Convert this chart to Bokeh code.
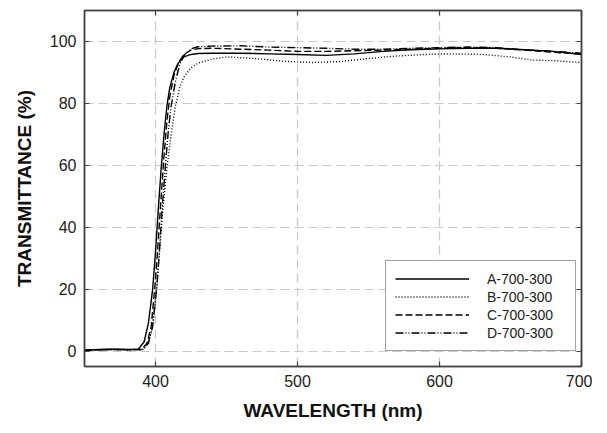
from bokeh.plotting import figure
from bokeh.models import LinearAxis, FixedTicker, Legend, LegendItem, CustomJSTickFormatter
from bokeh.embed import file_html
from bokeh.resources import INLINE

# ---- data ----
wl_A = [350, 360, 370, 380, 388, 392, 395, 398, 400, 402, 404, 406, 408, 410, 413, 416, 420, 425, 430, 440,
        460, 480, 500, 520, 540, 560, 580, 600, 620, 640, 660, 680, 700]
t_A = [0.3, 0.5, 0.6, 0.5, 0.6, 3, 9, 20, 32, 46, 59, 70, 79, 85, 90, 93, 95, 95.8, 96.1, 96.2,
       96.2, 96.0, 95.8, 95.5, 96.0, 96.8, 97.3, 97.6, 97.8, 97.8, 97.3, 96.8, 95.8]

wl_B = [350, 360, 370, 380, 391, 395, 398, 401, 403, 405, 408, 411, 414, 417, 420, 425, 430, 440, 450,
        470, 490, 510, 530, 550, 570, 590, 610, 630, 650, 665, 680, 700]
t_B = [0.2, 0.4, 0.5, 0.4, 0.5, 2.5, 8, 21, 33, 45, 59, 70, 79, 85, 88.5, 91.5, 93.0, 94.3, 95.0,
       94.5, 93.6, 93.2, 93.5, 94.5, 95.3, 95.8, 96.0, 95.8, 95.0, 94.0, 93.8, 93.2]

wl_C = [350, 360, 370, 380, 390, 394, 397, 400, 402, 404, 406, 408, 410, 413, 416, 420, 425, 430, 440,
        460, 480, 500, 520, 540, 560, 580, 600, 620, 640, 660, 680, 700]
t_C = [0.2, 0.4, 0.5, 0.4, 0.5, 2.5, 8, 23, 36, 50, 63, 74, 82, 89, 93, 95.8, 97.2, 97.7, 97.8,
       97.5, 97.2, 96.8, 96.8, 97.0, 97.2, 97.5, 97.8, 98.0, 97.8, 97.2, 96.5, 96.0]

wl_D = [350, 360, 370, 380, 391, 395, 398, 401, 403, 405, 407, 409, 411, 414, 417, 420, 425, 430, 440,
        460, 480, 500, 520, 540, 560, 580, 600, 620, 640, 660, 680, 700]
t_D = [0.3, 0.4, 0.5, 0.5, 0.5, 2.5, 8, 21, 34, 48, 60, 71, 79, 87, 92.5, 95.5, 97.6, 98.3, 98.5,
       98.6, 98.2, 98.0, 97.8, 97.5, 97.5, 97.8, 98.0, 98.2, 98.0, 97.3, 96.8, 96.2]

labels = ["A-700-300", "B-700-300", "C-700-300", "D-700-300"]
x_ticks = [400, 500, 600, 700]
y_ticks = [0, 20, 40, 60, 80, 100]

FONT = "Liberation Sans"
AX = "#444444"

p = figure(width=592, height=425, x_range=(350, 700), y_range=(-5, 110),
           output_backend="svg", toolbar_location=None,
           min_border_left=84, min_border_right=11, min_border_top=10, min_border_bottom=59,
           x_axis_label="WAVELENGTH (nm)", y_axis_label="TRANSMITTANCE (%)")
p.background_fill_color = "white"
p.border_fill_color = "white"
p.outline_line_color = AX
p.outline_line_width = 1.5

for ax, ticks in ((p.xaxis[0], x_ticks), (p.yaxis[0], y_ticks)):
    ax.ticker = FixedTicker(ticks=ticks)
    ax.major_tick_in = 5
    ax.major_tick_out = 0
    ax.minor_tick_line_color = None
    ax.axis_line_color = AX
    ax.axis_line_width = 1.5
    ax.major_tick_line_color = AX
    ax.major_tick_line_width = 1.2
    ax.major_label_text_font = FONT
    ax.major_label_text_font_size = "16px"
    ax.major_label_text_color = "#222222"
    ax.major_label_standoff = 8
    ax.axis_label_text_font = FONT
    ax.axis_label_text_font_size = "19px"
    ax.axis_label_text_font_style = "bold"
    ax.axis_label_text_color = "#111111"
p.xaxis[0].axis_label_standoff = 10
p.yaxis[0].axis_label_standoff = 12

for loc, ticks in (("above", x_ticks), ("right", y_ticks)):
    a = LinearAxis(ticker=FixedTicker(ticks=ticks),
                   formatter=CustomJSTickFormatter(code="return ''"))
    a.major_tick_in = 5
    a.major_tick_out = 0
    a.minor_tick_line_color = None
    a.axis_line_color = AX
    a.axis_line_width = 1.5
    a.major_tick_line_color = AX
    a.major_tick_line_width = 1.2
    a.major_label_standoff = 0
    p.add_layout(a, loc)

for g, ticks in ((p.xgrid[0], x_ticks), (p.ygrid[0], y_ticks)):
    g.ticker = FixedTicker(ticks=ticks)
    g.grid_line_color = "#c8c8c8"
    g.grid_line_dash = "9 5"
    g.grid_line_width = 1.2

rA = p.line(wl_A, t_A, line_color="black", line_width=1.4)
rB = p.line(wl_B, t_B, line_color="black", line_width=1.4, line_dash="1 2")
rC = p.line(wl_C, t_C, line_color="black", line_width=1.4, line_dash="7 3")
rD = p.line(wl_D, t_D, line_color="black", line_width=1.4, line_dash="8 2 1 2 1 2")

legend = Legend(items=[LegendItem(label=l, renderers=[r]) for l, r in zip(labels, [rA, rB, rC, rD])],
                location=(301, 15))
legend.glyph_width = 74
legend.glyph_height = 17
legend.label_height = 17
legend.label_width = 79
legend.label_standoff = 18
legend.spacing = 1
legend.padding = 9
legend.margin = 0
legend.label_text_font = FONT
legend.label_text_font_size = "14px"
legend.label_text_color = "#222222"
legend.border_line_color = AX
legend.border_line_width = 1.2
legend.background_fill_color = "white"
legend.background_fill_alpha = 1.0
p.add_layout(legend, "center")

open("out.html", "w").write(file_html(p, INLINE))
